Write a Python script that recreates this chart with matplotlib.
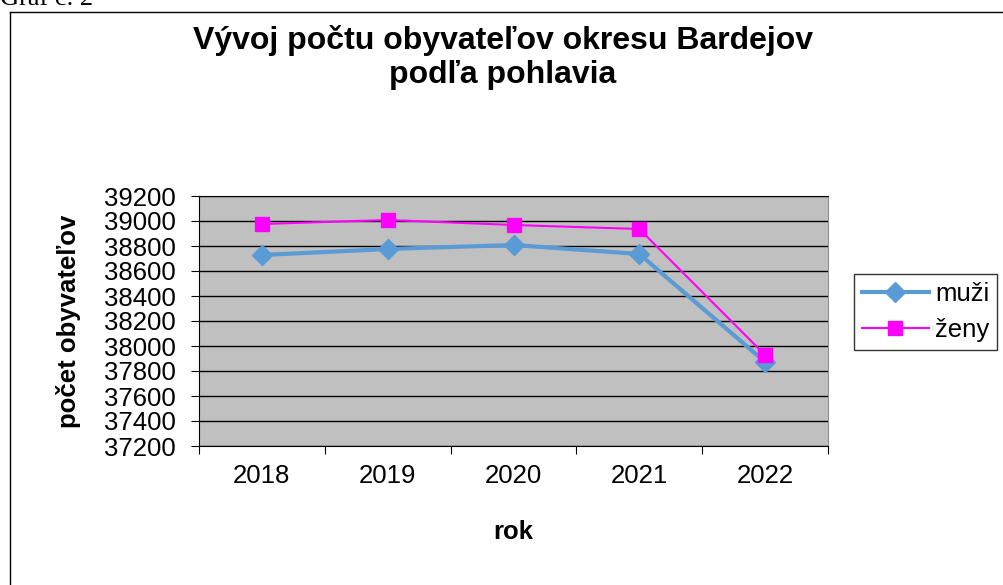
import matplotlib
matplotlib.use("Agg")
import matplotlib.pyplot as plt
from matplotlib.lines import Line2D

plt.rcParams['font.family'] = ['Liberation Sans', 'DejaVu Sans']

years = ['2018', '2019', '2020', '2021', '2022']
muzi = [38728, 38776, 38808, 38736, 37872]
zeny = [38976, 39008, 38968, 38936, 37928]
y_ticks = [37200, 37400, 37600, 37800, 38000, 38200, 38400, 38600, 38800, 39000, 39200]

fig = plt.figure(figsize=(10.04, 5.85), dpi=100)
W, H = 1004, 585

# outer chart frame (cut at right and bottom, like the source screenshot)
fig.add_artist(Line2D([10 / W, 10 / W], [0, 1 - 12 / H], color='black', lw=1, transform=fig.transFigure))
fig.add_artist(Line2D([10 / W, 1], [1 - 12 / H, 1 - 12 / H], color='black', lw=1, transform=fig.transFigure))
fig.text(0.0, 1 - 5 / H, 'Graf č. 2', family=['Liberation Serif'], fontsize=19, va='baseline', ha='left')

fig.text(503 / W, 1 - 40 / H, 'Vývoj počtu obyvateľov okresu Bardejov', fontsize=23, fontweight='bold',
         ha='center', va='center')
fig.text(503 / W, 1 - 75 / H, 'podľa pohlavia', fontsize=23, fontweight='bold', ha='center', va='center')

ax = fig.add_axes([199 / W, 1 - 446 / H, (828 - 199) / W, (446 - 196) / H])
ax.set_facecolor('#c0c0c0')
x = list(range(len(years)))
ax.plot(x, muzi, color='#5b9bd5', lw=3, marker='D', markersize=10, label='muži', zorder=3)
ax.plot(x, zeny, color='#ff00ff', lw=1.5, marker='s', markersize=10, label='ženy', zorder=4)

ax.set_ylim(37200, 39200)
ax.set_yticks(y_ticks)
ax.set_yticklabels([str(v) for v in y_ticks], fontsize=18.5)
ax.yaxis.grid(True, color='black', lw=1)
ax.set_axisbelow(True)

ax.set_xlim(-0.5, len(years) - 0.5)
ax.set_xticks([i - 0.5 for i in range(len(years) + 1)])
ax.set_xticklabels([])
ax.set_xticks(x, minor=True)
ax.set_xticklabels(years, minor=True, fontsize=18.5)
ax.tick_params(axis='x', which='minor', length=0, pad=13)
ax.tick_params(axis='both', which='major', length=6, direction='out', color='black')
ax.tick_params(axis='y', pad=11)

ax.spines['right'].set_color('#909090')
for s in ['left', 'bottom', 'top']:
    ax.spines[s].set_color('black')

ax.set_xlabel('rok', fontsize=18.5, fontweight='bold', labelpad=23)
ax.set_ylabel('počet obyvateľov', fontsize=18.5, fontweight='bold', labelpad=16)

leg = ax.legend(loc='center left', bbox_to_anchor=(854 / W, 1 - 312 / H), bbox_transform=fig.transFigure,
                fontsize=18.5, frameon=True, fancybox=False, edgecolor='black', borderpad=0.3,
                handlelength=2.6, labelspacing=0.5, handletextpad=0.25, borderaxespad=0)
leg.get_frame().set_linewidth(1)

fig.savefig('out.png', dpi=100)
